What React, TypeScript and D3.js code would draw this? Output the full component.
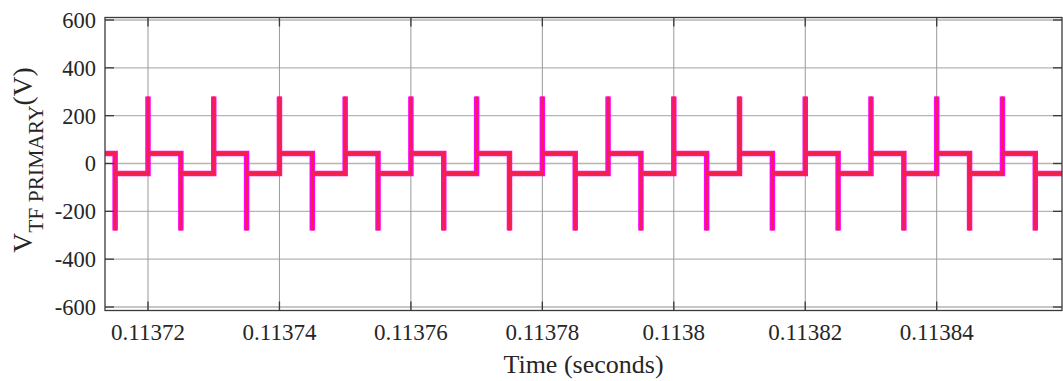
import React from "react";
import * as d3 from "d3";

// edge instants (seconds)
const riseTimes = [
  0.11372, 0.11373, 0.11374, 0.11375, 0.11376, 0.11377, 0.11378,
  0.11379, 0.1138, 0.11381, 0.11382, 0.11383, 0.11384, 0.11385,
];
const fallTimes = [
  0.113715, 0.113725, 0.113735, 0.113745, 0.113755, 0.113765, 0.113775,
  0.113785, 0.113795, 0.113805, 0.113815, 0.113825, 0.113835, 0.113845,
  0.113855,
];
const highLevel = 42;
const lowLevel = -42;
const spikeLevel = 280;

const xTicks = [0.11372, 0.11374, 0.11376, 0.11378, 0.1138, 0.11382, 0.11384];
const xTickLabels = ["0.11372", "0.11374", "0.11376", "0.11378", "0.1138", "0.11382", "0.11384"];
const yTicks = [-600, -400, -200, 0, 200, 400, 600];

const tStart = 0.1137135;
const tEnd = 0.1138591;

const W = 1063;
const H = 381;
const plot = { left: 105, right: 1062, top: 17.5, bottom: 310.5 };

export default function App() {
  const x = d3.scaleLinear().domain([0.11372, 0.11384]).range([148, 936.7]);
  const y = d3.scaleLinear().domain([-600, 600]).range([307, 20]);

  // build the step trace from edge times
  const events = [
    ...riseTimes.map((t) => ({ t, up: true })),
    ...fallTimes.map((t) => ({ t, up: false })),
  ].sort((a, b) => a.t - b.t);

  const pts: [number, number][] = [[tStart, highLevel]];
  let level = highLevel;
  events.forEach((e) => {
    pts.push([e.t, level]);
    if (e.up) {
      pts.push([e.t, spikeLevel]);
      level = highLevel;
    } else {
      pts.push([e.t, -spikeLevel]);
      level = lowLevel;
    }
    pts.push([e.t, level]);
  });
  pts.push([tEnd, level]);

  const line = d3
    .line<[number, number]>()
    .x((d) => x(d[0]))
    .y((d) => y(d[1]));
  const path = line(pts) || "";

  const font = "'Liberation Serif', 'Times New Roman', serif";
  const tickLen = 9;

  return (
    <svg
      width={W}
      height={H}
      style={{ position: "absolute", left: 0, top: 0, background: "#fff" }}
    >
      <defs>
        <clipPath id="plotclip">
          <rect
            x={plot.left}
            y={plot.top}
            width={plot.right - plot.left}
            height={plot.bottom - plot.top}
          />
        </clipPath>
      </defs>
      <rect x={0} y={0} width={W} height={H} fill="#fff" />

      {/* grid */}
      {yTicks.map((v) => (
        <line
          key={"gy" + v}
          x1={plot.left}
          x2={plot.right}
          y1={y(v)}
          y2={y(v)}
          stroke="#b5b5b5"
          strokeWidth={1.4}
        />
      ))}
      {xTicks.map((v) => (
        <line
          key={"gx" + v}
          x1={x(v)}
          x2={x(v)}
          y1={plot.top}
          y2={plot.bottom}
          stroke="#999"
          strokeWidth={1}
        />
      ))}

      {/* trace */}
      <g clipPath="url(#plotclip)">
        <path d={path} fill="none" stroke="#ff00ff" strokeWidth={5.5} />
        <path d={path} fill="none" stroke="#f2204a" strokeWidth={3} />
      </g>

      {/* axes box */}
      <rect
        x={plot.left}
        y={plot.top}
        width={plot.right - plot.left}
        height={plot.bottom - plot.top}
        fill="none"
        stroke="#3a3a3a"
        strokeWidth={1.3}
      />
      {yTicks.map((v) => (
        <g key={"ty" + v}>
          <line x1={plot.left} x2={plot.left + tickLen} y1={y(v)} y2={y(v)} stroke="#3a3a3a" strokeWidth={1.3} />
          <line x1={plot.right - tickLen} x2={plot.right} y1={y(v)} y2={y(v)} stroke="#3a3a3a" strokeWidth={1.3} />
          <text
            x={96}
            y={y(v)}
            dy="0.35em"
            textAnchor="end"
            fontFamily={font}
            fontSize={22.5}
            fill="#262626"
          >
            {v}
          </text>
        </g>
      ))}
      {xTicks.map((v, i) => (
        <g key={"tx" + v}>
          <line x1={x(v)} x2={x(v)} y1={plot.bottom} y2={plot.bottom - tickLen} stroke="#3a3a3a" strokeWidth={1.3} />
          <line x1={x(v)} x2={x(v)} y1={plot.top} y2={plot.top + tickLen} stroke="#3a3a3a" strokeWidth={1.3} />
          <text
            x={x(v)}
            y={340}
            textAnchor="middle"
            fontFamily={font}
            fontSize={23}
            fill="#262626"
          >
            {xTickLabels[i]}
          </text>
        </g>
      ))}

      {/* labels */}
      <text
        x={(plot.left + plot.right) / 2}
        y={373}
        textAnchor="middle"
        fontFamily={font}
        fontSize={26}
        fill="#262626"
      >
        Time (seconds)
      </text>
      <text
        transform="translate(32,160) rotate(-90)"
        textAnchor="middle"
        fontFamily={font}
        fontSize={27.5}
        fill="#262626"
      >
        V
        <tspan fontSize={21.5} dy={11}>
          TF PRIMARY
        </tspan>
        <tspan dy={-11}>(V)</tspan>
      </text>
    </svg>
  );
}
